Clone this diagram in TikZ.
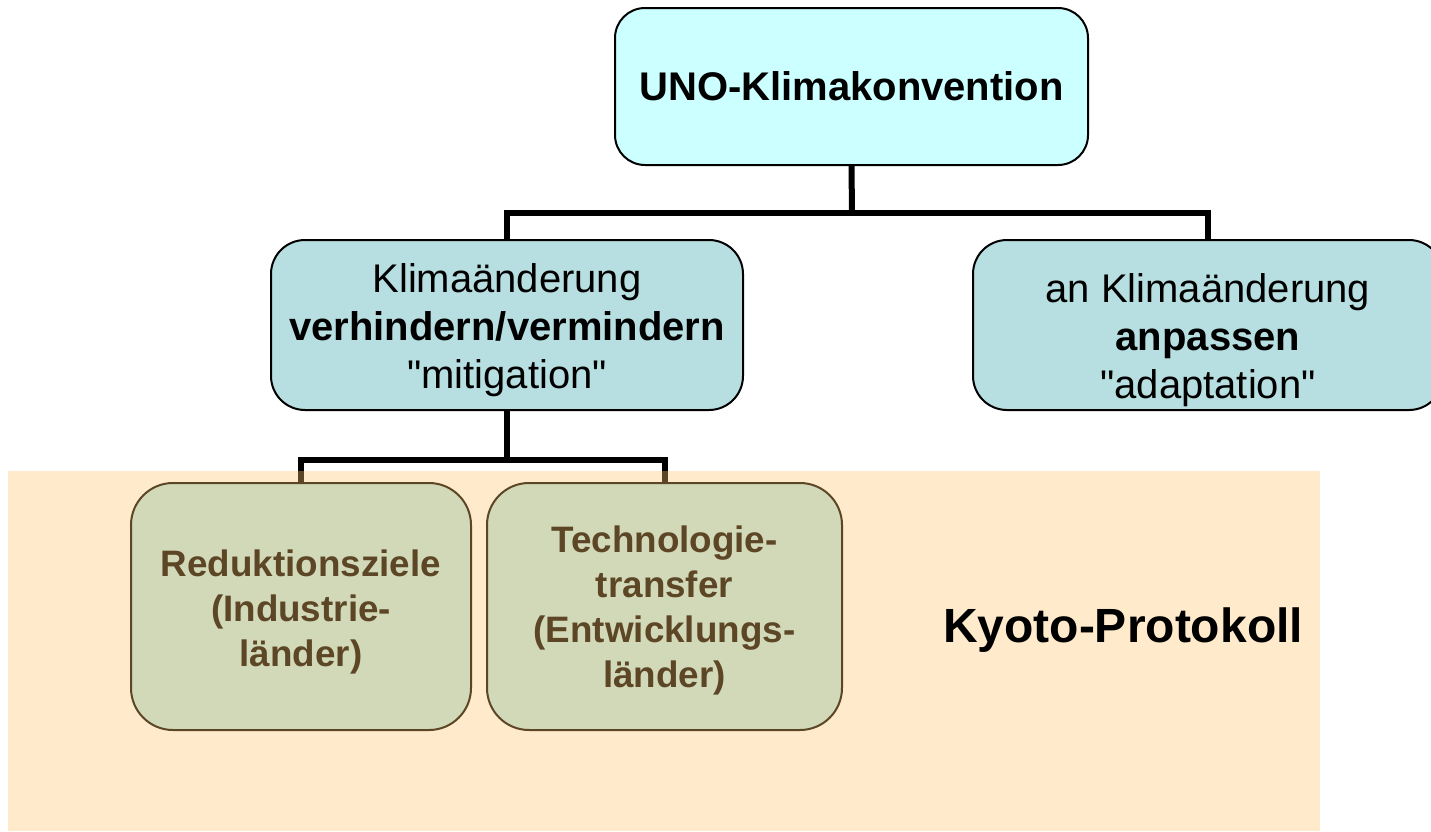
\documentclass[tikz,border=0pt]{standalone}
\usepackage{fontspec}
\setmainfont{Liberation Sans}
\newdimen\upx \upx=0.5pt
\definecolor{unofill}{HTML}{CCFFFF}
\definecolor{midfill}{HTML}{B7DFE2}
\definecolor{kfill}{HTML}{D2D9B9}
\definecolor{kbrown}{HTML}{5C4626}
\definecolor{peach}{HTML}{FFEBCB}
\begin{document}
\begin{tikzpicture}[x=0.5pt,y=-0.5pt,
  unobox/.style={draw=black, line width=1pt, fill=unofill, rounded corners=15pt, inner sep=0pt, align=center},
  midbox/.style={draw=black, line width=1pt, fill=midfill, rounded corners=17pt, inner sep=0pt},
  kbox/.style={draw=kbrown, line width=1pt, fill=kfill, rounded corners=21pt, inner sep=0pt},
  ktext/.style={inner sep=0pt, align=center, text=kbrown, font=\fontsize{18.4}{22.5}\selectfont\bfseries},
  midtext/.style={font=\fontsize{20}{24}\selectfont, align=center, inner sep=0pt},
  kbg/.style={fill=peach, draw=none, inner sep=0pt},
  conn/.style={draw=black, line width=3pt, line join=miter},
  stub/.style={draw=kbrown, line width=3pt}]
\clip (0,0) rectangle (1431,831);
\fill[white] (0,0) rectangle (1431,831);
\node[kbg, minimum width=1312\upx, minimum height=360\upx] (kbg) at (664,651) {};
\node[font=\fontsize{24}{28}\selectfont\bfseries, inner sep=0pt] (kyoto) at (1123,630) {Kyoto-Protokoll};
\node[unobox, minimum width=473\upx, minimum height=157\upx, font=\fontsize{20}{24}\selectfont\bfseries] (uno) at (851.5,86.5) {UNO-Klimakonvention};
\node[midbox, minimum width=472\upx, minimum height=170\upx] (mit) at (507,325) {};
\node[midtext] (mittext) at (507,330)
  {Klimaänderung\\\textbf{verhindern/vermindern}\\\textquotedbl mitigation\textquotedbl};
\node[midbox, minimum width=470\upx, minimum height=170\upx] (adapt) at (1208,325) {};
\node[midtext] (adapttext) at (1208,340)
  {an Klimaänderung\\\textbf{anpassen}\\\textquotedbl adaptation\textquotedbl};
\node[kbox, minimum width=340\upx, minimum height=247\upx] (red) at (301,606.5) {};
\node[ktext] (redtext) at (301,611.5) {Reduktionsziele\\(Industrie-\\länder)};
\node[kbox, minimum width=355\upx, minimum height=247\upx] (tech) at (664.5,606.5) {};
\node[ktext] (techtext) at (664.5,610.5) {Technologie-\\transfer\\(Entwicklungs-\\länder)};
\coordinate (j1) at (852,213);
\coordinate (j2) at (507,460);
\draw[conn] (uno.south) -- (j1);
\draw[conn] (mit.north) |- (j1) -| (adapt.north);
\draw[conn] (mit.south) -- (j2);
\draw[conn] (red.north) |- (j2) -| (tech.north);
\draw[stub] (red.north) -- (red.north |- kbg.north);
\draw[stub] (tech.north) -- (tech.north |- kbg.north);
\end{tikzpicture}
\end{document}
